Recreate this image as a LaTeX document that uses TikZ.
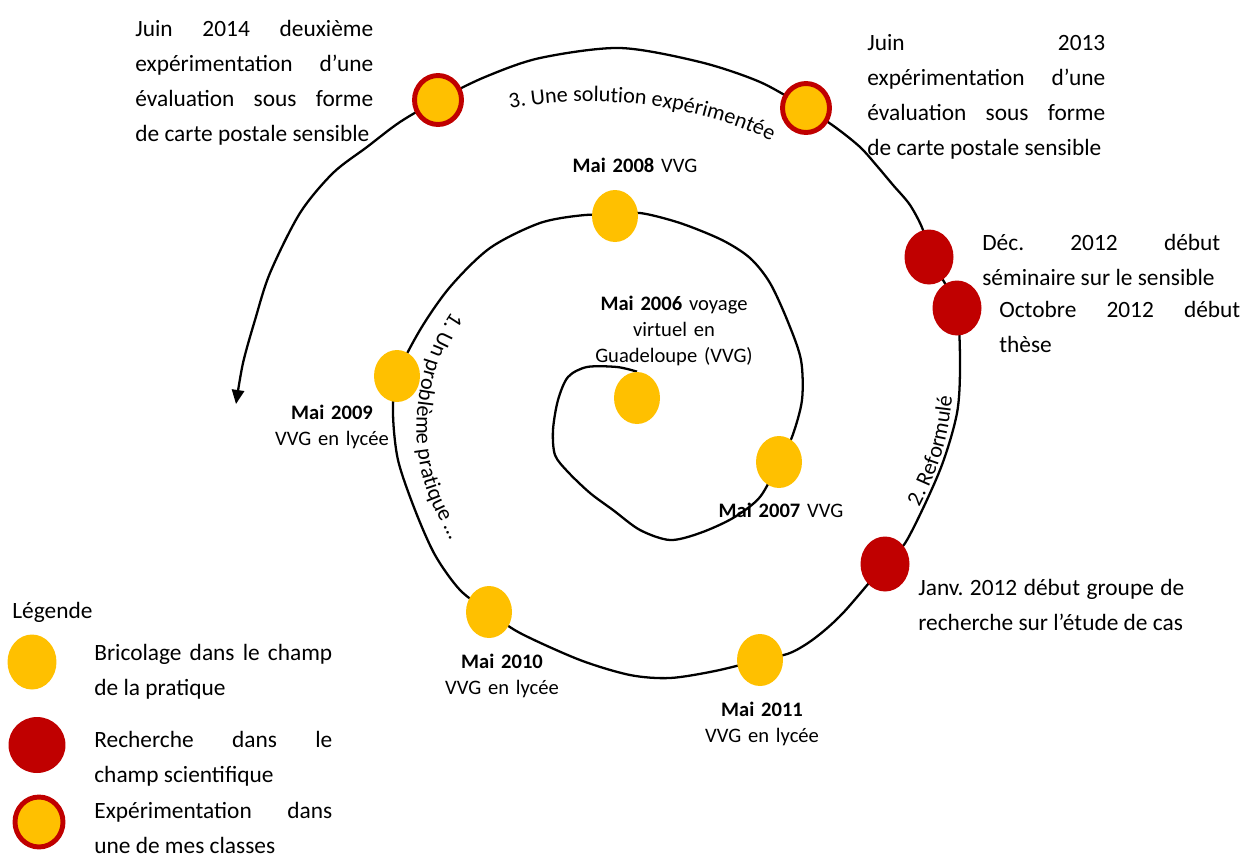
\documentclass[tikz,border=0pt]{standalone}
\usepackage{fontspec}
\setmainfont{Carlito}
\usepackage{tikz}
\usetikzlibrary{shapes.geometric,arrows.meta,backgrounds,decorations.text}
\definecolor{bricolage}{HTML}{FFC000}
\definecolor{recherche}{HTML}{C00000}
\frenchspacing
\newcommand\bodysize{\fontsize{13.3}{20}\selectfont\tolerance=10000\hyphenpenalty=10000}
\newcommand\datesize{\fontsize{11.7}{15}\selectfont}
\newcommand\arcsize{\fontsize{12.6}{15}\selectfont}
\tikzset{
    practice element/.style={
        ellipse,fill=bricolage,inner sep=0,
        minimum width=0.92cm,minimum height=1.04cm
    },
    research element/.style={
        ellipse,fill=recherche,inner sep=0,
        minimum width=0.98cm,minimum height=1.1cm
    },
    trial element/.style={
        ellipse,draw=recherche,line width=2.8pt,fill=bricolage,inner sep=0,
        minimum width=0.94cm,minimum height=0.98cm
    },
    note/.style={
        anchor=base west,inner sep=0,
        text width=4.76cm,align=justify,
        font=\bodysize
    },
    date label/.style={
        anchor=base,inner sep=0,
        text width=4.2cm,align=center,
        font=\datesize
    },
    spiral line/.style={line width=1.3pt},
    >={Triangle[length=8pt,width=7pt]}
}

\begin{document}
\begin{tikzpicture}[x=0.02cm,y=-0.02cm]
\useasboundingbox (0,0) rectangle (1244,856);
% events on the spiral
\foreach \yr/\x/\y in {2006/637/398,2007/779/462,2008/615/216,2009/397/376,2010/489/612,2011/760/660}
    \node[practice element] (m\yr) at (\x,\y) {};
\node[research element] (rJanv) at (885,564) {};
\node[research element] (rOct) at (957,308) {};
\node[research element] (rDec) at (929,257) {};
\node[trial element] (t2013) at (806,108) {};
\node[trial element] (t2014) at (438,100) {};
% spiral
\begin{scope}[on background layer]
\draw[spiral line,->] plot[smooth] coordinates {
    (m2006.north) (617,367) (587,367) (568,377) (558,400) (553,430) (555,455)
    (568,472) (590,493) (613,510) (640,530) (670,540) (700,533) (733,518) (760,497)
    (m2007.center) (792,437) (802,400) (801,360) (788,322) (770,283) (750,258)
    (722,240) (680,223) (640,213) (m2008.center) (585,215) (540,223) (490,248)
    (450,287) (420,330) (m2009.center) (393,413) (398,460) (415,510) (435,555)
    (460,590) (m2010.center) (520,633) (580,660) (630,675) (670,678) (715,671)
    (m2011.center) (790,653) (815,638) (843,613) (rJanv.center) (907,540) (940,470)
    (957,413) (960,363) (rOct.center) (943,280) (rDec.center) (923,230) (910,205)
    (893,185) (877,166) (860,147) (835,127) (t2013.center) (760,82) (700,62)
    (620,48) (540,58) (485,77) (t2014.center) (400,122) (367,147) (333,173)
    (300,213) (270,273) (255,320) (243,363) (236,404)};
\end{scope}
% phases
\path[decorate,decoration={text along path,text={|\arcsize|3. Une solution expérimentée}}]
    (510,109) .. controls (580,95) and (690,98) .. (782,146);
\path[decorate,decoration={text along path,text={|\arcsize|2. Reformulé}}]
    (919,507) .. controls (938,470) and (950,440) .. (953,383);
\path[decorate,decoration={text along path,text={|\arcsize|1. Un problème pratique …}}]
    (452,312) .. controls (412,370) and (405,450) .. (435,510) .. controls (445,530) and (455,550) .. (462,568);
% dates
\node[date label] (l2006) at (674,310) {\textbf{Mai 2006} voyage\\virtuel en\\Guadeloupe (VVG)};
\node[date label] (l2007) at (781,517) {\textbf{Mai 2007} VVG};
\node[date label] (l2008) at (635,172) {\textbf{Mai 2008} VVG};
\node[date label] (l2009) at (332,419) {\textbf{Mai 2009}\\VVG en lycée};
\node[date label] (l2010) at (502,668) {\textbf{Mai 2010}\\VVG en lycée};
\node[date label] (l2011) at (762,716) {\textbf{Mai 2011}\\VVG en lycée};
\node[note] (nJanv) at (918,595) [text width=5.32cm] {Janv. 2012 début groupe de\linebreak recherche sur l’étude de cas};
\node[note] (nOct) at (999,317) [text width=4.82cm] {Octobre 2012 début\linebreak thèse};
\node[note] (nDec) at (982,250) {Déc. 2012 début\linebreak séminaire sur le sensible};
\node[note] (n2013) at (867,50) {Juin 2013\linebreak expérimentation d’une\linebreak évaluation sous forme\linebreak de carte postale sensible};
\node[note] (n2014) at (135,36) {Juin 2014 deuxième\linebreak expérimentation d’une\linebreak évaluation sous forme\linebreak de carte postale sensible};
% legend
\node[anchor=base west,inner sep=0,font=\bodysize] (legende) at (12,618) {Légende};
\node[practice element,minimum width=0.98cm,minimum height=1.1cm] (kBric) at (32,662) {};
\node[research element,minimum width=1.14cm,minimum height=1.12cm] (kRech) at (37,745) {};
\node[trial element,minimum width=0.96cm,minimum height=1cm] (kExp) at (39,822) {};
\node[note] (tBric) at (94,660) {Bricolage dans le champ\linebreak de la pratique};
\node[note] (tRech) at (94,747) {Recherche dans le\linebreak champ scientifique};
\node[note] (tExp) at (94,818) {Expérimentation dans\linebreak une de mes classes};
\end{tikzpicture}
\end{document}
